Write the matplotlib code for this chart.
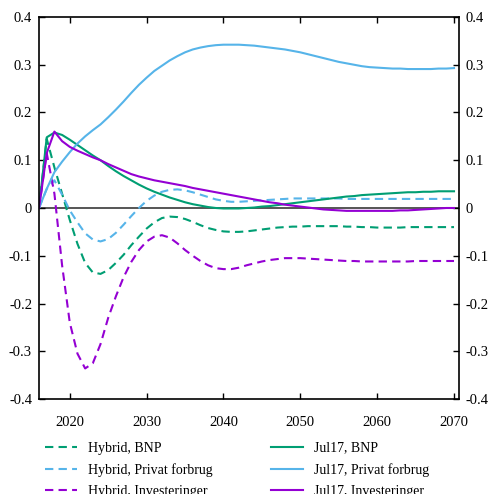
import matplotlib
matplotlib.use("Agg")
import matplotlib.pyplot as plt
from matplotlib.ticker import FuncFormatter

plt.rcParams['font.family'] = ['Liberation Serif', 'DejaVu Serif']
plt.rcParams['axes.unicode_minus'] = False

# Aar 2016-2070
years = list(range(2016, 2071))

hybrid_bnp = [
    0.0, 0.145, 0.085, 0.03, -0.025, -0.075, -0.115, -0.135, -0.138, -0.13,
    -0.115, -0.098, -0.078, -0.06, -0.043, -0.03, -0.021, -0.018, -0.019, -0.023,
    -0.029, -0.036, -0.042, -0.046, -0.049, -0.05, -0.05, -0.049, -0.047, -0.045,
    -0.043, -0.041, -0.04, -0.039, -0.039, -0.038, -0.038, -0.038, -0.038, -0.038,
    -0.039, -0.039, -0.04, -0.04, -0.041, -0.041, -0.041, -0.041, -0.04, -0.04,
    -0.04, -0.04, -0.04, -0.04, -0.04,
]
hybrid_pf = [
    0.0, 0.04, 0.058, 0.028, -0.005, -0.03, -0.053, -0.066, -0.07, -0.065,
    -0.052, -0.035, -0.017, 0.0, 0.015, 0.026, 0.034, 0.038, 0.039, 0.037,
    0.033, 0.028, 0.023, 0.018, 0.015, 0.013, 0.013, 0.014, 0.015, 0.016,
    0.017, 0.018, 0.019, 0.02, 0.02, 0.02, 0.02, 0.02, 0.02, 0.02,
    0.019, 0.019, 0.019, 0.019, 0.019, 0.019, 0.019, 0.019, 0.019, 0.019,
    0.019, 0.019, 0.019, 0.019, 0.019,
]
hybrid_inv = [
    0.0, 0.115, 0.03, -0.12, -0.24, -0.305, -0.336, -0.325, -0.285, -0.23,
    -0.185, -0.145, -0.113, -0.088, -0.07, -0.06, -0.057, -0.062, -0.074, -0.088,
    -0.1, -0.111, -0.12, -0.126, -0.128, -0.128, -0.125, -0.12, -0.116, -0.112,
    -0.109, -0.107, -0.105, -0.105, -0.105, -0.106, -0.107, -0.108, -0.109, -0.11,
    -0.111, -0.111, -0.112, -0.112, -0.112, -0.112, -0.112, -0.112, -0.112, -0.111,
    -0.111, -0.111, -0.111, -0.111, -0.111,
]
jul17_bnp = [
    0.0, 0.148, 0.158, 0.153, 0.143, 0.132, 0.121, 0.11, 0.1, 0.088,
    0.077, 0.067, 0.058, 0.049, 0.041, 0.034, 0.028, 0.022, 0.017, 0.012,
    0.008, 0.005, 0.002, 0.0, -0.001, -0.001, -0.001, 0.0, 0.001, 0.003,
    0.004, 0.006, 0.008, 0.01, 0.012, 0.014, 0.016, 0.018, 0.02, 0.022,
    0.024, 0.025, 0.027, 0.028, 0.029, 0.03, 0.031, 0.032, 0.033, 0.033,
    0.034, 0.034, 0.035, 0.035, 0.035,
]
jul17_pf = [
    0.0, 0.04, 0.075, 0.097, 0.117, 0.135, 0.15, 0.163, 0.175, 0.19,
    0.206, 0.223, 0.241, 0.258, 0.273, 0.287, 0.298, 0.309, 0.318, 0.326,
    0.332, 0.336, 0.339, 0.341, 0.342, 0.342, 0.342, 0.341, 0.34, 0.338,
    0.336, 0.334, 0.332, 0.329, 0.326, 0.322, 0.318, 0.314, 0.31, 0.306,
    0.303, 0.3, 0.297, 0.295, 0.294, 0.293, 0.292, 0.292, 0.291, 0.291,
    0.291, 0.291, 0.292, 0.292, 0.293,
]
jul17_inv = [
    0.0, 0.115, 0.16, 0.14, 0.128, 0.12, 0.113, 0.106, 0.1, 0.092,
    0.085, 0.078, 0.071, 0.066, 0.062, 0.058, 0.055, 0.052, 0.049, 0.046,
    0.042, 0.039, 0.036, 0.033, 0.03, 0.027, 0.024, 0.021, 0.018, 0.015,
    0.012, 0.01, 0.007, 0.005, 0.003, 0.001, -0.001, -0.003, -0.004, -0.005,
    -0.006, -0.006, -0.006, -0.006, -0.006, -0.006, -0.006, -0.005, -0.005, -0.004,
    -0.003, -0.002, -0.001, 0.0, 0.0,
]

groen = '#009E73'
lysblaa = '#56B4E9'
lilla = '#9400D3'

fig = plt.figure(figsize=(4.88, 4.94), dpi=100)
ax = fig.add_axes([0.080, 0.1923, 0.8606, 0.7733])

ax.axhline(0, color='#555555', lw=1.4, zorder=1)

dash = (4, 2.5)
l1, = ax.plot(years, hybrid_bnp, color=groen, lw=1.5, dashes=dash, label='Hybrid, BNP')
l2, = ax.plot(years, hybrid_pf, color=lysblaa, lw=1.5, dashes=dash, label='Hybrid, Privat forbrug')
l3, = ax.plot(years, hybrid_inv, color=lilla, lw=1.5, dashes=dash, label='Hybrid, Investeringer')
l4, = ax.plot(years, jul17_bnp, color=groen, lw=1.5, label='Jul17, BNP')
l5, = ax.plot(years, jul17_pf, color=lysblaa, lw=1.5, label='Jul17, Privat forbrug')
l6, = ax.plot(years, jul17_inv, color=lilla, lw=1.5, label='Jul17, Investeringer')

ax.set_xlim(2016, 2070.65)
ax.set_ylim(-0.4, 0.4)
ax.set_xticks([2020, 2030, 2040, 2050, 2060, 2070])
ax.set_yticks([-0.4, -0.3, -0.2, -0.1, 0, 0.1, 0.2, 0.3, 0.4])
ax.yaxis.set_major_formatter(FuncFormatter(lambda v, p: '0' if abs(v) < 1e-9 else f'{v:g}'))

ax.tick_params(axis='both', which='both', direction='in', length=4, width=1,
               top=True, right=True, labelright=True, labelsize=10.5)
ax.tick_params(axis='x', pad=12)
ax.tick_params(axis='y', pad=5)
for s in ax.spines.values():
    s.set_linewidth(1.2)

kw = dict(frameon=False, fontsize=10, handlelength=2.3, handletextpad=0.8,
          labelspacing=0.6, borderpad=0, borderaxespad=0)
fig.legend(handles=[l1, l2, l3], loc='upper left', bbox_to_anchor=(0.093, 0.106), **kw)
fig.legend(handles=[l4, l5, l6], loc='upper left', bbox_to_anchor=(0.556, 0.106), **kw)

fig.savefig('out.png', dpi=100)
